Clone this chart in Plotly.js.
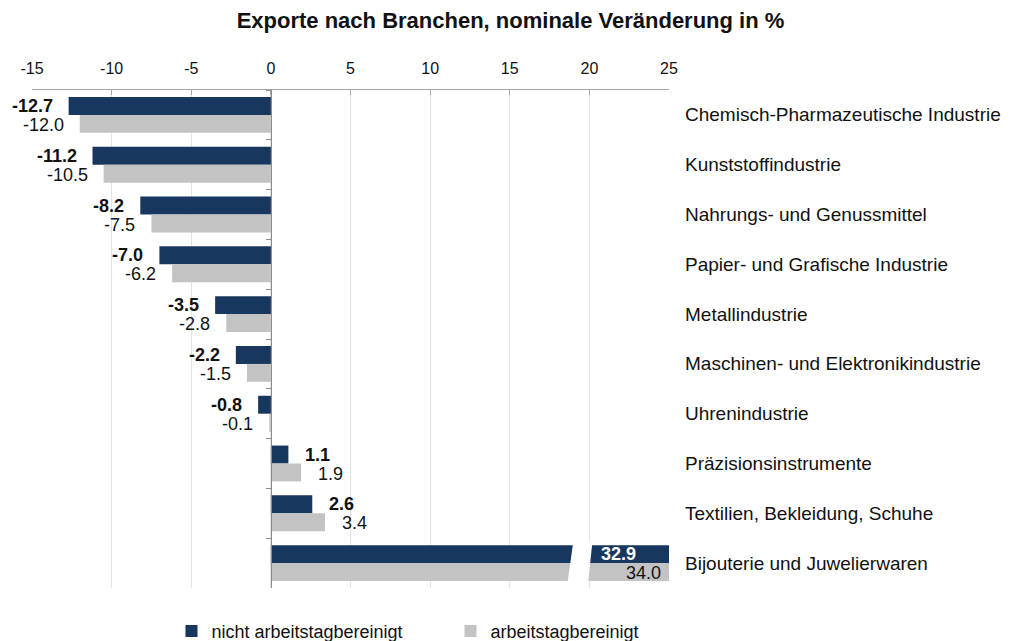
<!DOCTYPE html>
<html><head><meta charset="utf-8">
<script src="https://cdn.plot.ly/plotly-3.0.1.min.js"></script>
<style>html,body{margin:0;padding:0;background:#fff}#chart{width:1021px;height:641px}</style>
</head><body><div id="chart"></div>
<script>
const categories = [
  "Chemisch-Pharmazeutische Industrie",
  "Kunststoffindustrie",
  "Nahrungs- und Genussmittel",
  "Papier- und Grafische Industrie",
  "Metallindustrie",
  "Maschinen- und Elektronikindustrie",
  "Uhrenindustrie",
  "Präzisionsinstrumente",
  "Textilien, Bekleidung, Schuhe",
  "Bijouterie und Juwelierwaren"
];
const nichtBereinigt = [-12.7, -11.2, -8.2, -7.0, -3.5, -2.2, -0.8, 1.1, 2.6, 32.9];
const bereinigt      = [-12.0, -10.5, -7.5, -6.2, -2.8, -1.5, -0.1, 1.9, 3.4, 34.0];
const seriesNames = ["nicht arbeitstagbereinigt", "arbeitstagbereinigt"];
const xTicks = [-15, -10, -5, 0, 5, 10, 15, 20, 25];

const DARK = "#17375e", GREY = "#c3c3c3";
const FONT = "Liberation Sans, Arial, sans-serif";
const xMin = -15, xMax = 25;
const breakAt = 19.4;

const traces = [
  {type:"bar", orientation:"h", name:seriesNames[0], y:categories, x:nichtBereinigt,
   marker:{color:DARK}, hoverinfo:"x"},
  {type:"bar", orientation:"h", name:seriesNames[1], y:categories, x:bereinigt,
   marker:{color:GREY}, hoverinfo:"x"}
];

const annotations = [];
function addLabels(vals, bold, dy, overColor, overShift){
  vals.forEach((v,i)=>{
    const over = v > xMax;
    const txt = v.toFixed(1);
    annotations.push({
      x: over ? xMax : v, y: categories[i], xref:"x", yref:"y",
      text: bold ? "<b>"+txt+"</b>" : txt,
      showarrow:false,
      xanchor: over ? "right" : (v < 0 ? "right" : "left"),
      xshift: over ? overShift : (v < 0 ? -14 : 15),
      yshift: dy,
      font:{family:FONT, size:18, color: over ? overColor : "#111"}
    });
  });
}
addLabels(nichtBereinigt, true, 9, "#ffffff", -31);
addLabels(bereinigt, false, -10, "#111", -6);

categories.forEach((c)=>{
  annotations.push({x:1, xref:"paper", y:c, yref:"y", xanchor:"left", xshift:14,
    text:c, showarrow:false, font:{family:FONT, size:19, color:"#111"}});
});

const n = categories.length;
const yb = 1/n;
const layout = {
  width:1021, height:641,
  margin:{l:32, r:352, t:90, b:53, autoexpand:false},
  paper_bgcolor:"#fff", plot_bgcolor:"#fff",
  title:{text:"<b>Exporte nach Branchen, nominale Veränderung in %</b>",
    font:{family:FONT, size:22, color:"#111"}, x:0.5, xref:"container", xanchor:"center",
    y:1-20/641, yref:"container", yanchor:"middle", pad:{t:0,b:0}},
  barmode:"group", bargap:0.28, bargroupgap:0,
  xaxis:{side:"top", range:[xMin,xMax], tickvals:xTicks, ticktext:xTicks.map(String),
    showgrid:true, gridcolor:"#e3e3e3", gridwidth:1, zeroline:false,
    showline:true, linecolor:"#a6a6a6", linewidth:1, ticks:"inside", ticklen:5, tickcolor:"#a6a6a6",
    ticklabelstandoff:9,
    tickfont:{family:FONT, size:16, color:"#111"}, fixedrange:true},
  yaxis:{type:"category", autorange:"reversed", anchor:"free", position:(0-xMin)/(xMax-xMin),
    showticklabels:false, ticks:"outside", ticklen:5, tickcolor:"#8c8c8c", tickson:"boundaries",
    showline:true, linecolor:"#8c8c8c", linewidth:1, showgrid:false, zeroline:false},
  showlegend:true,
  legend:{orientation:"h", x:0.219, xanchor:"left", y:-0.05, yanchor:"top",
    entrywidth:234, font:{family:FONT, size:18, color:"#111"}, itemwidth:30},
  annotations:annotations,
  shapes:[{type:"path", xref:"x", yref:"paper", layer:"above",
    path:`M ${breakAt-0.8},0.005 L ${breakAt+0.5},0.005 L ${breakAt+0.8},${yb-0.005} L ${breakAt-0.4},${yb-0.005} Z`,
    fillcolor:"#fff", line:{width:0}}]
};
Plotly.newPlot("chart", traces, layout, {displayModeBar:false, staticPlot:true});
</script></body></html>
